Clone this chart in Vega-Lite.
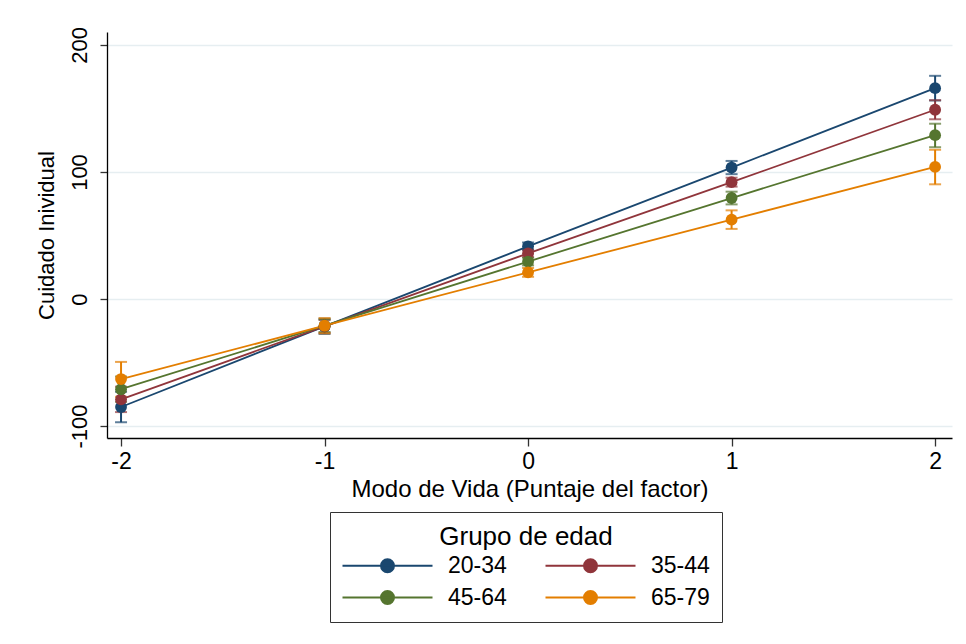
{
  "$schema": "https://vega.github.io/schema/vega-lite/v6.json",
  "width": 845,
  "height": 406,
  "autosize": {"type": "none"},
  "padding": {"left": 107, "top": 32, "right": 14, "bottom": 206},
  "background": "white",
  "config": {
    "font": "Liberation Sans",
    "view": {"stroke": null},
    "axis": {"labelFont": "Liberation Sans", "titleFont": "Liberation Sans", "titleFontWeight": "normal", "labelColor": "black", "titleColor": "black"}
  },
  "data": {"values": [
    {"x": -2, "g": "20-34", "y": -85, "lo": -97, "hi": -73},
    {"x": -1, "g": "20-34", "y": -21.5, "lo": -27.5, "hi": -15.5},
    {"x": 0, "g": "20-34", "y": 41.5, "lo": 38.5, "hi": 44.5},
    {"x": 1, "g": "20-34", "y": 103.5, "lo": 98.3, "hi": 108.7},
    {"x": 2, "g": "20-34", "y": 166, "lo": 156.3, "hi": 175.7},
    {"x": -2, "g": "35-44", "y": -79, "lo": -89, "hi": -69},
    {"x": -1, "g": "35-44", "y": -21.5, "lo": -26.5, "hi": -16.5},
    {"x": 0, "g": "35-44", "y": 36, "lo": 33, "hi": 39},
    {"x": 1, "g": "35-44", "y": 92, "lo": 88.5, "hi": 95.5},
    {"x": 2, "g": "35-44", "y": 149, "lo": 141.5, "hi": 156.5},
    {"x": -2, "g": "45-64", "y": -71, "lo": -81, "hi": -61},
    {"x": -1, "g": "45-64", "y": -21, "lo": -26, "hi": -16},
    {"x": 0, "g": "45-64", "y": 29.5, "lo": 26.5, "hi": 32.5},
    {"x": 1, "g": "45-64", "y": 79.5, "lo": 74.5, "hi": 84.5},
    {"x": 2, "g": "45-64", "y": 129, "lo": 119.5, "hi": 138},
    {"x": -2, "g": "65-79", "y": -63, "lo": -77, "hi": -49.5},
    {"x": -1, "g": "65-79", "y": -21, "lo": -27, "hi": -15},
    {"x": 0, "g": "65-79", "y": 21, "lo": 17.5, "hi": 24.5},
    {"x": 1, "g": "65-79", "y": 62.5, "lo": 55.2, "hi": 69.8},
    {"x": 2, "g": "65-79", "y": 104, "lo": 90.3, "hi": 117.5}
  ]},
  "encoding": {
    "x": {
      "field": "x", "type": "quantitative",
      "scale": {"domain": [-2.069, 2.083], "nice": false, "zero": false},
      "axis": {
        "title": "Modo de Vida (Puntaje del factor)",
        "values": [-2, -1, 0, 1, 2],
        "labelExpr": "toString(datum.value)",
        "grid": false,
        "domainColor": "black", "domainWidth": 1.3,
        "tickColor": "#333333", "tickSize": 8, "tickWidth": 1.3,
        "labelFontSize": 23, "labelPadding": 4,
        "titleFontSize": 24, "titlePadding": 4
      }
    },
    "color": {
      "field": "g", "type": "nominal",
      "scale": {"domain": ["20-34", "35-44", "45-64", "65-79"], "range": ["#1a476f", "#90353b", "#55752f", "#e37e00"]},
      "legend": {
        "title": "Grupo de edad",
        "orient": "none",
        "legendX": 223,
        "legendY": 480,
        "direction": "horizontal",
        "columns": 2,
        "padding": 12,
        "strokeColor": "#333333",
        "fillColor": "white",
        "titleFontSize": 26,
        "titleFontWeight": "normal",
        "titleColor": "black",
        "titleAnchor": "middle",
        "titleAlign": "center",
        "titlePadding": 4,
        "labelFontSize": 23,
        "labelColor": "black",
        "labelOffset": 83,
        "columnPadding": 34,
        "rowPadding": 8,
        "symbolSize": 400,
        "symbolStrokeWidth": 2,
        "symbolOpacity": 1,
        "symbolType": "M -1.1 0 L 7.9 0 M 2.75 0 A 0.65 0.65 0 1 1 4.05 0 A 0.65 0.65 0 1 1 2.75 0 Z"
      }
    }
  },
  "layer": [
    {
      "mark": {"type": "rule", "strokeWidth": 2},
      "encoding": {
        "y": {
          "field": "lo", "type": "quantitative",
          "scale": {"domain": [-109.4, 210.2], "nice": false, "zero": false},
          "axis": {
            "title": "Cuidado Inividual",
            "values": [-100, 0, 100, 200],
            "labelExpr": "toString(datum.value)",
            "grid": true, "gridColor": "#e6eef1", "gridWidth": 1.5,
            "domainColor": "black", "domainWidth": 1.3,
            "tickColor": "#333333", "tickSize": 7, "tickWidth": 1.3,
            "labelAngle": -90, "labelAlign": "center", "labelBaseline": "bottom",
            "labelFontSize": 22, "labelPadding": 9,
            "titleFontSize": 22, "titlePadding": 10
          }
        },
        "y2": {"field": "hi"}
      }
    },
    {
      "mark": {"type": "tick", "orient": "horizontal", "size": 12, "thickness": 2},
      "encoding": {"y": {"field": "lo", "type": "quantitative"}}
    },
    {
      "mark": {"type": "tick", "orient": "horizontal", "size": 12, "thickness": 2},
      "encoding": {"y": {"field": "hi", "type": "quantitative"}}
    },
    {
      "mark": {"type": "line", "strokeWidth": 1.8, "point": {"filled": true, "size": 140, "opacity": 1}},
      "encoding": {"y": {"field": "y", "type": "quantitative"}}
    }
  ]
}
